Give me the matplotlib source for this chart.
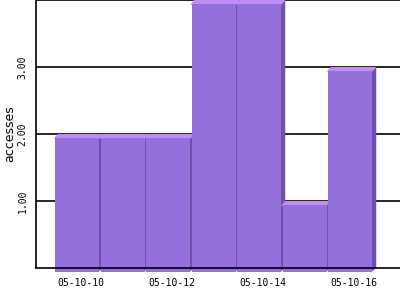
import matplotlib
matplotlib.use('Agg')
import matplotlib.pyplot as plt
from matplotlib.patches import Polygon

# data
days = ['05-10-10', '05-10-11', '05-10-12', '05-10-13', '05-10-14', '05-10-15', '05-10-16']
accesses = [2, 2, 2, 4, 4, 1, 3]
tick_days = ['05-10-10', '05-10-12', '05-10-14', '05-10-16']
y_ticks = [1, 2, 3, 4]
y_tick_labels = ['1.00', '2.00', '3.00', '']

front_color = '#9370DB'
top_color = '#C08CF8'
side_color = '#7050A8'

fig = plt.figure(figsize=(4, 3), dpi=100)
ax = fig.add_axes([0.09, 0.1067, 0.91, 0.8933])

# pixel depth of the fake 3d effect, in data units
dx = 4 / 45.5
dy = 4 / 67.0
gap = 1.5 / 45.5
ov = 1.0 / 45.5  # small overlap so no seams show between faces
x_lo, x_hi = -0.978, 7.022

xs = list(range(len(days)))

ax.hlines(y_ticks, x_lo, x_hi, colors='black', linewidth=1.2, zorder=0.5)

for i, v in zip(xs, accesses):
    side = Polygon([(i + 0.5 - dx - ov, v - dy), (i + 0.5, v), (i + 0.5, 0), (i + 0.5 - dx - ov, -dy)],
                   closed=True, facecolor=side_color, edgecolor='none', zorder=5 + i, clip_on=False)
    top = Polygon([(i - 0.5 - dx, v - dy - 0.01), (i - 0.5, v), (i + 0.5, v), (i + 0.5 - dx, v - dy - 0.01)],
                  closed=True, facecolor=top_color, edgecolor='none', zorder=5 + i, clip_on=False)
    ax.add_patch(side)
    ax.add_patch(top)
    # front face, a bit narrower on the left so the previous bar's side shows
    ax.bar(i - dx + gap / 2, v, width=1 - gap, bottom=-dy, color=front_color, linewidth=0,
           zorder=5.5 + i, clip_on=False)

ax.set_xlim(x_lo, x_hi)
ax.set_ylim(0, 4)

for s in ['top', 'right']:
    ax.spines[s].set_visible(False)
ax.spines['left'].set_zorder(20)
ax.spines['bottom'].set_zorder(20)
ax.spines['left'].set_linewidth(1.2)
ax.spines['bottom'].set_linewidth(1.2)

ax.set_xticks([days.index(d) for d in tick_days])
ax.set_xticklabels(tick_days, family='DejaVu Sans Mono', fontsize=7)
ax.set_yticks(y_ticks)
ax.set_yticklabels(y_tick_labels, family='DejaVu Sans Mono', fontsize=7, rotation=90, va='center')
ax.tick_params(axis='x', length=0, pad=7)
ax.tick_params(axis='y', length=0, pad=6)
ax.set_ylabel('accesses', fontsize=9, labelpad=1)

fig.savefig('out.png', dpi=100)
